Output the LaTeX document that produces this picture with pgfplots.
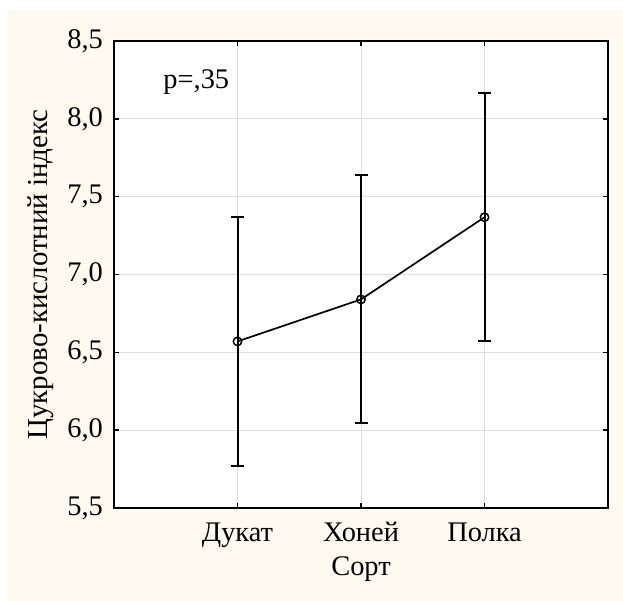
\documentclass[border=0pt]{standalone}
\usepackage{fontspec}
\setmainfont{Liberation Serif}
\usepackage{pgfplots}
\pgfplotsset{compat=1.18}
\definecolor{cream}{HTML}{FFFAF0}
\definecolor{gridc}{HTML}{DDDDDD}
\begin{document}
\begin{tikzpicture}
\useasboundingbox (0,0) rectangle (623bp,601bp);
\fill[white] (0,0) rectangle (623bp,601bp);
\fill[cream] (7bp,0) rectangle (623bp,591bp);
\begin{axis}[
  at={(114bp,93bp)}, anchor=south west,
  scale only axis, width=494bp, height=467bp,
  xmin=0, xmax=4, ymin=5.5, ymax=8.5,
  xtick={1,2,3}, xticklabels={Дукат,Хоней,Полка},
  ytick={5.5,6,6.5,7,7.5,8,8.5},
  axis background/.style={fill=white},
  axis line style={line width=2bp},
  tick align=inside, major tick length=5bp,
  tick style={black, line width=1.5bp},
  grid=major, major grid style={gridc, line width=1bp},
  font=\fontsize{28.5}{34}\selectfont,
  /pgf/number format/assume math mode=true,
  every tick label/.append style={font=\fontsize{28.5}{34}\selectfont},
  yticklabel style={anchor=east, inner sep=0pt, xshift=-11bp,
    /pgf/number format/.cd, fixed, fixed zerofill, precision=1, use comma},
  xticklabel style={anchor=base, inner sep=0pt, yshift=-34bp},
  xlabel={Сорт}, ylabel={Цукрово-кислотний індекс},
  every axis x label/.style={at={(rel axis cs:0.5,0)}, anchor=base, inner sep=0pt, yshift=-67bp,
    font=\fontsize{28.5}{34}\selectfont},
  every axis y label/.style={at={(rel axis cs:0,0.5)}, rotate=90, anchor=base, inner sep=0pt, yshift=66bp,
    font=\fontsize{29}{34}\selectfont},
]
\addplot[black, line width=1.7bp, mark=o, mark size=4.2bp,
  mark options={fill=white, line width=1.5bp},
  error bars/.cd, y dir=both, y explicit,
  error bar style={line width=2bp},
  error mark options={rotate=90, mark size=6.5bp, line width=2bp}]
  coordinates {
  (1,6.570) +- (0,0.797)
  (2,6.840) +- (0,0.797)
  (3,7.368) +- (0,0.797)
};
\node[anchor=base west, inner sep=0pt, font=\fontsize{28.5}{34}\selectfont] at (axis cs:0.399,8.196) {p=,35};
\end{axis}
\end{tikzpicture}
\end{document}
